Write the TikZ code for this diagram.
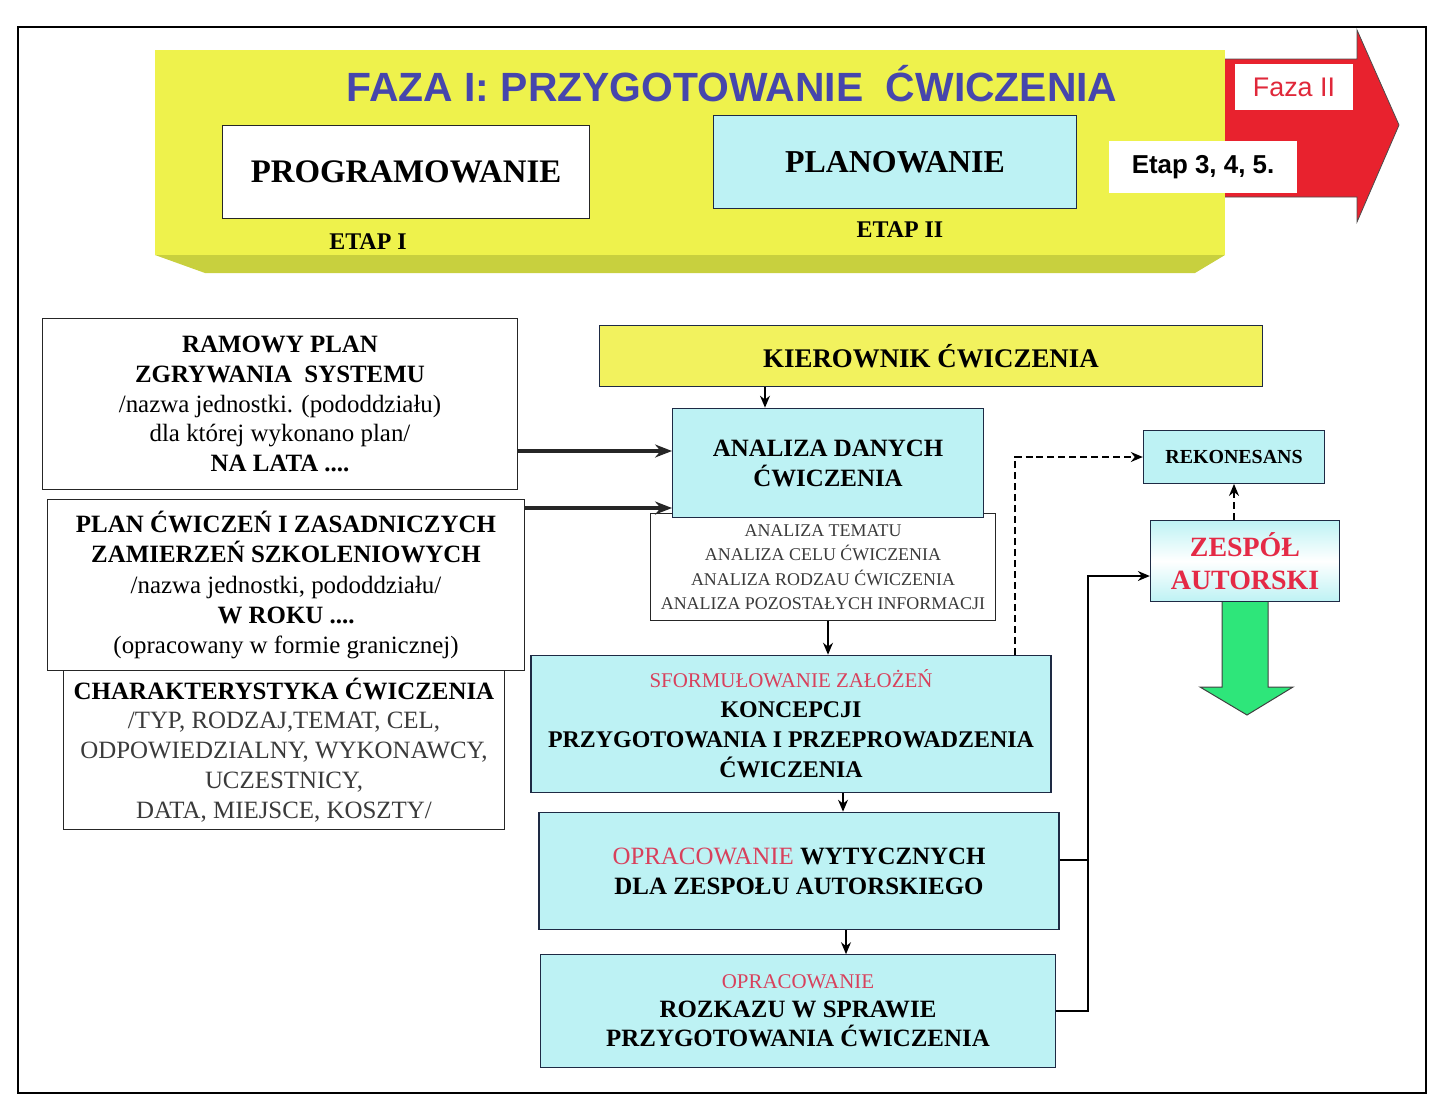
\documentclass[tikz,border=0pt]{standalone}
\usepackage{fontspec}
\setmainfont{Liberation Serif}
\newfontfamily\arialfont{Liberation Sans}
\usepackage{tikz}
\usetikzlibrary{calc}
\usetikzlibrary{arrows,arrows.meta,shapes}
\usetikzlibrary{positioning}
\definecolor{bannery}{HTML}{EEF24C}
\definecolor{bannerdark}{HTML}{C8D03E}
\definecolor{kiery}{HTML}{F2F25E}
\definecolor{boxcyan}{HTML}{BDF2F4}
\definecolor{navyline}{HTML}{1E2A44}
\definecolor{titleblue}{HTML}{4646AC}
\definecolor{arrowred}{HTML}{E8222E}
\definecolor{fazared}{HTML}{E0283A}
\definecolor{zred}{HTML}{E42A46}
\definecolor{pinkred}{HTML}{D8415C}
\definecolor{arrowgreen}{HTML}{2EE67A}
\definecolor{txtgray}{HTML}{3A3A3A}
\newcommand{\fsz}[2]{\fontsize{#1}{#2}\selectfont}
\tikzstyle{cbox}=[draw=navyline, fill=boxcyan, line width=1.1pt, align=center, inner sep=0pt]
\tikzstyle{wbox}=[draw=black!85, fill=white, line width=1pt, align=center, inner sep=0pt]
\tikzstyle{hit}=[->,>={Stealth[length=12pt,width=10pt]}, line width=1.4pt]
\tikzstyle{thickhit}=[->,>={Stealth[length=17pt,width=13pt]}, line width=3.2pt, draw=black!85]
\tikzstyle{dashhit}=[->,>={Stealth[length=12pt,width=10pt]}, line width=1.7pt, dash pattern=on 7pt off 4pt]
\begin{document}
\begin{tikzpicture}[x=1bp,y=-1bp]
\useasboundingbox (0,0) rectangle (1432,1111);
\draw[line width=1.3pt] (18,27) rectangle (1426,1093);
\draw[fill=arrowred, draw=black!70, line width=0.8pt] (1222,59) -- (1357,59) -- (1357,30) -- (1399,125) -- (1357,222) -- (1357,197) -- (1222,197) -- cycle;
\fill[bannerdark] (155,255) -- (1225,255) -- (1195,273) -- (205,273) -- cycle;
\fill[bannery] (155,50) rectangle (1225,255);
\node[font=\arialfont\bfseries\fsz{41}{48}, text=titleblue] (title) at (732,84) {FAZA I: PRZYGOTOWANIE\ \ ĆWICZENIA};
\node[wbox, minimum width=368, minimum height=93, font=\bfseries\fsz{33}{38}] (prog) at (406,172) {PROGRAMOWANIE};
\node[cbox, minimum width=365, minimum height=93, font=\bfseries\fsz{32}{38}] (plan) at (895,162) {PLANOWANIE};
\node[font=\bfseries\fsz{24}{28}] (etap1) at (368,242) {ETAP I};
\node[font=\bfseries\fsz{24}{28}] (etap2) at (900,230) {ETAP II};
\node[fill=white, minimum width=118, minimum height=47, font=\arialfont\fsz{27}{32}, text=fazared] (faza2) at (1294,87) {Faza II};
\node[fill=white, minimum width=189, minimum height=53, font=\arialfont\bfseries\fsz{26}{32}] (etapy) at (1203,167) {Etap 3, 4, 5.};

\node[wbox, minimum width=476, minimum height=172, font=\fsz{25}{30}] (ramowy) at (280,404) {\textbf{RAMOWY PLAN}\\ \textbf{ZGRYWANIA\ \ SYSTEMU}\\ /nazwa jednostki. (pododdziału)\\ dla której wykonano plan/\\ \textbf{NA LATA ....}};
\node[wbox, minimum width=478, minimum height=171, font=\fsz{25}{30.5}] (planc) at (286,585) {\textbf{PLAN ĆWICZEŃ I ZASADNICZYCH}\\ \textbf{ZAMIERZEŃ SZKOLENIOWYCH}\\ /nazwa jednostki, pododdziału/\\ \textbf{W ROKU ....}\\ (opracowany w formie granicznej)};
\node[wbox, minimum width=442, minimum height=160, font=\fsz{25}{30}] (charakt) at (284,750) {\textbf{CHARAKTERYSTYKA ĆWICZENIA}\\ \textcolor{txtgray}{/TYP, RODZAJ,TEMAT, CEL,}\\ \textcolor{txtgray}{ODPOWIEDZIALNY, WYKONAWCY,}\\ \textcolor{txtgray}{UCZESTNICY,}\\ \textcolor{txtgray}{DATA, MIEJSCE, KOSZTY/}};

\node[cbox, fill=kiery, minimum width=665, minimum height=61, font=\bfseries\fsz{27}{32}] (kier) at (931,356) {KIEROWNIK ĆWICZENIA};
\node[wbox, line width=0.8pt, minimum width=347, minimum height=107, font=\fsz{18}{24.5}, text=txtgray] (lista) at (823,567) {ANALIZA TEMATU\\ ANALIZA CELU ĆWICZENIA\\ ANALIZA RODZAU ĆWICZENIA\\ ANALIZA POZOSTAŁYCH INFORMACJI};
\node[cbox, minimum width=312, minimum height=110, font=\bfseries\fsz{25}{30}] (analiza) at (828,463) {ANALIZA DANYCH\\ ĆWICZENIA};
\node[cbox, minimum width=522, minimum height=138, font=\bfseries\fsz{24}{30}] (sform) at (791,724) {\textcolor{pinkred}{\mdseries\fsz{21}{26}SFORMUŁOWANIE ZAŁOŻEŃ}\\ KONCEPCJI\\ PRZYGOTOWANIA I PRZEPROWADZENIA\\ ĆWICZENIA};
\node[cbox, minimum width=522, minimum height=118, font=\bfseries\fsz{25}{30}] (wytycz) at (799,871) {\textcolor{pinkred}{\mdseries OPRACOWANIE} WYTYCZNYCH\\ DLA ZESPOŁU AUTORSKIEGO};
\node[cbox, minimum width=517, minimum height=113, font=\bfseries\fsz{25}{29}] (rozkaz) at (798,1011) {\textcolor{pinkred}{\mdseries\fsz{21}{26}OPRACOWANIE}\\ ROZKAZU W SPRAWIE\\ PRZYGOTOWANIA ĆWICZENIA};

\node[cbox, minimum width=182, minimum height=53, font=\bfseries\fsz{20}{24}] (rekon) at (1234,457) {REKONESANS};
\draw[fill=arrowgreen, draw=black!75, line width=1pt] (1222,600) -- (1222,687) -- (1200,687) -- (1247,715) -- (1293,687) -- (1268,687) -- (1268,600);
\node[draw=navyline, line width=1.1pt, top color=boxcyan, bottom color=boxcyan, middle color=white, minimum width=190, minimum height=82, align=center, font=\bfseries\fsz{28}{33}, text=zred] (zespol) at (1245,561) {ZESPÓŁ\\ AUTORSKI};

\draw[thickhit] (ramowy.east |- 0,451) -- (analiza.west |- 0,451);
\draw[thickhit] (planc.east |- 0,508) -- (analiza.west |- 0,508);
\draw[hit] (kier.south -| 765,0) -- (analiza.north -| 765,0);
\draw[hit] (lista.south -| 828,0) -- (sform.north -| 828,0);
\draw[hit] (sform.south -| 843,0) -- (wytycz.north -| 843,0);
\draw[hit] (wytycz.south -| 846,0) -- (rozkaz.north -| 846,0);
\draw[dashhit] (sform.north -| 1015,0) |- (rekon.west);
\draw[dashhit] (rekon.south |- zespol.north) -- (rekon.south);
\coordinate (bus) at (1088,0);
\draw[line width=1.1pt] (wytycz.east |- 0,860) -- (bus |- 0,860);
\draw[hit] (rozkaz.east) -| (bus |- 0,576) -- (zespol.west |- 0,576);
\end{tikzpicture}
\end{document}
